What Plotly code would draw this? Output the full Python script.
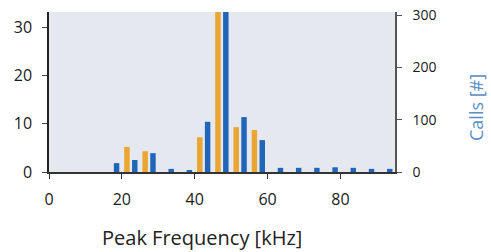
import plotly.graph_objects as go

bin_centers = [17.5, 22.5, 27.5, 32.5, 37.5, 42.5, 47.5, 52.5, 57.5, 62.5, 67.5, 72.5, 77.5, 82.5, 87.5, 92.5]
orange_vals = [0, 5.2, 4.3, 0, 0, 7.2, 33.3, 9.3, 8.7, 0, 0, 0, 0, 0, 0, 0]
calls_vals = [17, 23, 36, 6, 2, 96, 306, 105, 61, 8, 8, 8, 9, 8, 6, 6]
x_ticks = [0, 20, 40, 60, 80]
y1_ticks = [0, 10, 20, 30]
y2_ticks = [0, 100, 200, 300]

fig = go.Figure()
fig.add_trace(go.Bar(x=bin_centers, y=orange_vals, width=1.5, offset=-1.85,
                     marker=dict(color="#eaa532", line=dict(width=0)), yaxis="y", showlegend=False))
fig.add_trace(go.Bar(x=bin_centers, y=calls_vals, width=1.5, offset=0.3,
                     marker=dict(color="#1f66b8", line=dict(width=0)), yaxis="y2", showlegend=False))

font = "Open Sans, Noto Sans, sans-serif"
fig.update_layout(
    width=491, height=252,
    margin=dict(l=49, r=96, t=12, b=80, autoexpand=False),
    paper_bgcolor="white", plot_bgcolor="#e5e9ef",
    barmode="overlay",
    xaxis=dict(range=[0, 95], tickvals=x_ticks, ticks="outside", ticklen=5, tickcolor="#333",
               showgrid=False, zeroline=False, showline=True, linecolor="#333", linewidth=1.5,
               automargin=False,
               tickfont=dict(family=font, size=16, color="#1a1a1a"), ticklabelstandoff=7),
    yaxis=dict(range=[0, 33.2], tickvals=y1_ticks, ticks="outside", ticklen=5, tickcolor="#444",
               showgrid=False, zeroline=False, showline=True, linecolor="#222", linewidth=1.5,
               automargin=False,
               tickfont=dict(family=font, size=16, color="#1a1a1a"), ticklabelstandoff=7),
    yaxis2=dict(range=[0, 306], tickvals=y2_ticks, ticks="outside", ticklen=5, tickcolor="#555",
                overlaying="y", side="right", showgrid=False, zeroline=False,
                showline=True, linecolor="#555", linewidth=1.5, automargin=False,
                tickfont=dict(family=font, size=14, color="#1a1a1a"), ticklabelstandoff=8),
    annotations=[
        dict(text="Peak Frequency [kHz]", xref="paper", yref="paper",
             x=(202 - 49) / 346, y=-(237 - 172) / 160, xanchor="center", yanchor="middle",
             showarrow=False, font=dict(family=font, size=20, color="#222")),
        dict(text="Calls [#]", xref="paper", yref="paper", textangle=-90,
             x=(476 - 49) / 346, y=(172 - 108) / 160, xanchor="center", yanchor="middle",
             showarrow=False, font=dict(family=font, size=18, color="#5b8fc4")),
    ],
)

fig.write_html("out.html", config={"displayModeBar": False},
               post_script="document.body.style.margin='0';document.body.style.overflow='hidden';")
